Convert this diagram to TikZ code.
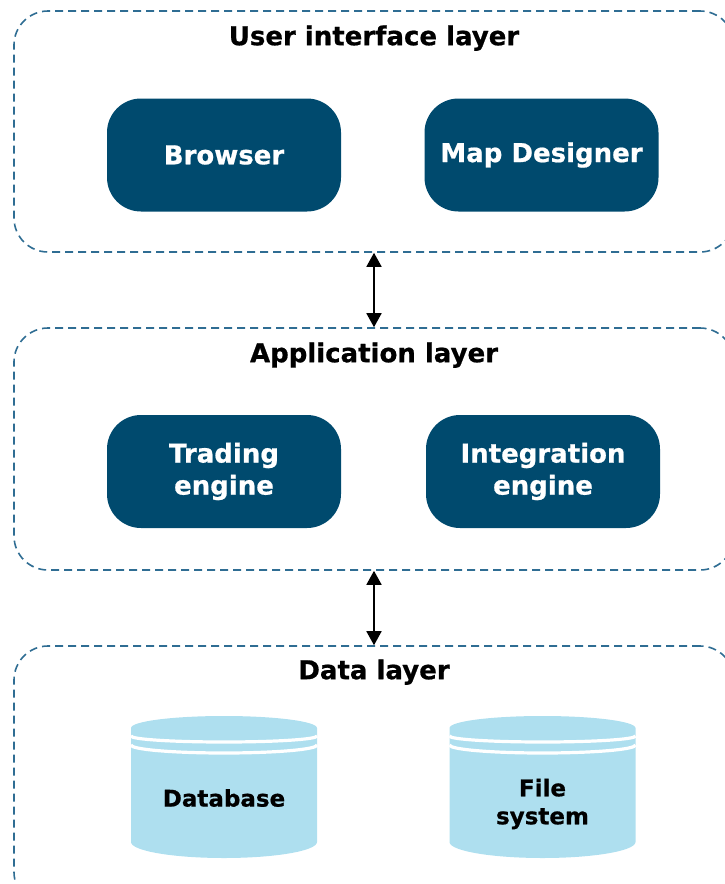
\documentclass[tikz,border=0pt]{standalone}
\usepackage{fontspec}
\setmainfont{DejaVu Sans}[BoldFont={DejaVu Sans Bold}, BoldFeatures={FakeBold=0.7}]
\usetikzlibrary{arrows.meta}

\definecolor{navy}{HTML}{004A6E}
\definecolor{layerline}{HTML}{2F6D93}
\definecolor{storefill}{HTML}{AEDFEF}

\tikzset{
  layer/.style={draw=layerline, line width=1.6pt, dash pattern=on 8pt off 5pt,
    rounded corners=34pt, minimum width=720pt, inner sep=0pt},
  layertitle/.style={anchor=base, inner sep=0pt, font=\fontsize{26}{30}\selectfont\bfseries},
  service/.style={fill=navy, text=white, rounded corners=34pt, minimum width=234pt,
    minimum height=113pt, inner sep=0pt, align=center,
    font=\fontsize{26}{32}\selectfont\bfseries},
  storelabel/.style={inner sep=0pt, align=center, font=\fontsize{23}{28}\selectfont\bfseries},
  link/.style={line width=1.7pt, {Triangle[width=15pt,length=14pt]}-{Triangle[width=15pt,length=14pt]}},
  store/.pic={
    \fill[storefill] (-93pt,0pt) -- (-93pt,-114pt)
      arc[start angle=180, end angle=360, x radius=93pt, y radius=16pt]
      -- (93pt,0pt)
      arc[start angle=0, end angle=180, x radius=93pt, y radius=12pt] -- cycle;
    \draw[white, line width=3.2pt] (-93pt,-8pt)
      arc[start angle=180, end angle=360, x radius=93pt, y radius=6pt];
    \draw[white, line width=3.2pt] (-93pt,-17pt)
      arc[start angle=180, end angle=360, x radius=93pt, y radius=8pt];
  }
}

\begin{document}
\begin{tikzpicture}[x=1pt, y=1pt]
  \useasboundingbox (0,0) rectangle (725,-884);

  % the three layers
  \node[layer, minimum height=241pt] (ui)   at (374,-131.5) {};
  \node[layer, minimum height=242pt] (app)  at (374,-449)   {};
  \node[layer, minimum height=260pt] (data) at (374,-776)   {};

  \node[layertitle] (uititle)   at ([yshift=-35pt]ui.north)   {User interface layer};
  \node[layertitle] (apptitle)  at ([yshift=-35pt]app.north)  {Application layer};
  \node[layertitle] (datatitle) at ([yshift=-34pt]data.north) {Data layer};

  % user interface components
  \node[service] (browser)  at (224,-155)   {Browser};
  \node[service] (designer) at (541.5,-155) {Map Designer};

  % application components
  \node[service] (trading)     at (224,-471.5) {Trading\\engine};
  \node[service] (integration) at (543,-471.5) {Integration\\engine};

  % data stores
  \pic at (224,-728) {store};
  \pic at (542.5,-728) {store};
  \node[storelabel] (database)   at (224,-798)   {Database};
  \node[storelabel] (filesystem) at (542.5,-804) {File\\system};

  % links between layers
  \draw[link] (ui.south)  -- (app.north);
  \draw[link] (app.south) -- (data.north);
\end{tikzpicture}
\end{document}
